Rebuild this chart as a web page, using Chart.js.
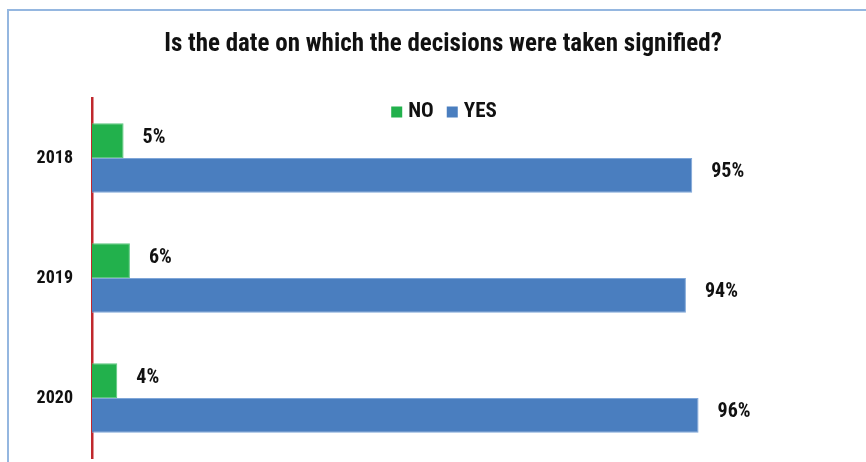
<!DOCTYPE html>
<html>
<head>
<meta charset="utf-8">
<script src="https://cdn.jsdelivr.net/npm/chart.js@4/dist/chart.umd.min.js"></script>
<style>
  html, body { margin: 0; padding: 0; background: #fff; }
  canvas { display: block; }
</style>
</head>
<body>
<canvas id="grafico" width="866" height="462"></canvas>
<script>
// datos del gráfico
const anios = ['2018', '2019', '2020'];
const valoresNo = [5, 6, 4];
const valoresSi = [95, 94, 96];
const etiquetasSeries = ['NO', 'YES'];

const FUENTE = '"Liberation Sans Narrow", "Arial Narrow", "Roboto Condensed", "Liberation Sans", sans-serif';
const colores = { no: '#22B14C', si: '#4A7EBF', eje: '#C0282D', marco: '#95B7E0' };

// marco azul claro (arriba e izquierda)
const marco = {
    id: 'marco',
    beforeDraw(chart) {
        const ctx = chart.ctx;
        ctx.save();
        ctx.strokeStyle = colores.marco;
        ctx.lineWidth = 2;
        ctx.beginPath();
        ctx.moveTo(8, chart.height + 2);
        ctx.lineTo(8, 10);
        ctx.lineTo(chart.width + 2, 10);
        ctx.stroke();
        ctx.restore();
    }
};

// etiquetas de porcentaje al final de cada barra
const etiquetas = {
    id: 'etiquetas',
    afterDatasetsDraw(chart) {
        const ctx = chart.ctx;
        ctx.save();
        ctx.font = 'bold 20px ' + FUENTE;
        ctx.fillStyle = '#111';
        ctx.textAlign = 'left';
        ctx.textBaseline = 'middle';
        chart.data.datasets.forEach((ds, i) => {
            chart.getDatasetMeta(i).data.forEach((bar, j) => {
                ctx.fillText(ds.data[j] + '%', bar.x + 19, bar.y - 3);
            });
        });
        ctx.restore();
    }
};

// leyenda dibujada dentro del área (como en el original)
const leyenda = {
    id: 'leyenda',
    afterDraw(chart) {
        const ctx = chart.ctx;
        ctx.save();
        ctx.font = 'bold 21px ' + FUENTE;
        ctx.textBaseline = 'middle';
        const caja = 11, sep = 6, hueco = 13;
        const items = chart.data.datasets.map(ds => ({ texto: ds.label, color: ds.backgroundColor }));
        let total = 0;
        items.forEach((it, i) => {
            total += caja + sep + ctx.measureText(it.texto).width + (i < items.length - 1 ? hueco : 0);
        });
        let x = 444 - total / 2;
        const y = 112;
        items.forEach(it => {
            ctx.fillStyle = it.color;
            ctx.fillRect(x, y - caja / 2, caja, caja);
            x += caja + sep;
            ctx.fillStyle = '#111';
            ctx.fillText(it.texto, x, y);
            x += ctx.measureText(it.texto).width + hueco;
        });
        ctx.restore();
    }
};

new Chart(document.getElementById('grafico'), {
    type: 'bar',
    data: {
        labels: anios,
        datasets: [
            {
                label: etiquetasSeries[0],
                data: valoresNo,
                backgroundColor: colores.no,
                borderColor: '#5CC77E',
                borderWidth: 1,
                categoryPercentage: 0.58,
                barPercentage: 1
            },
            {
                label: etiquetasSeries[1],
                data: valoresSi,
                backgroundColor: colores.si,
                borderColor: '#7FA6D8',
                borderWidth: 1,
                categoryPercentage: 0.58,
                barPercentage: 1
            }
        ]
    },
    options: {
        indexAxis: 'y',
        responsive: false,
        animation: false,
        layout: { padding: { left: 20, right: 0, top: 0, bottom: 4 } },
        plugins: {
            legend: { display: false },
            tooltip: { enabled: false },
            title: {
                display: true,
                text: 'Is the date on which the decisions were taken signified?',
                color: '#111',
                font: { family: FUENTE, size: 25, weight: 'bold', lineHeight: 1.2 },
                padding: { top: 30, bottom: 38 }
            }
        },
        scales: {
            x: {
                display: false,
                min: 0,
                max: 122.5
            },
            y: {
                grid: { display: false },
                border: { color: colores.eje, width: 2.5 },
                ticks: {
                    color: '#111',
                    padding: 11,
                    font: { family: FUENTE, size: 18, weight: 'bold' }
                },
                afterFit(scale) {
                    scale.width = 72;
                    scale.paddingTop = 0;
                    scale.paddingBottom = 0;
                }
            }
        }
    },
    plugins: [marco, etiquetas, leyenda]
});
</script>
</body>
</html>
